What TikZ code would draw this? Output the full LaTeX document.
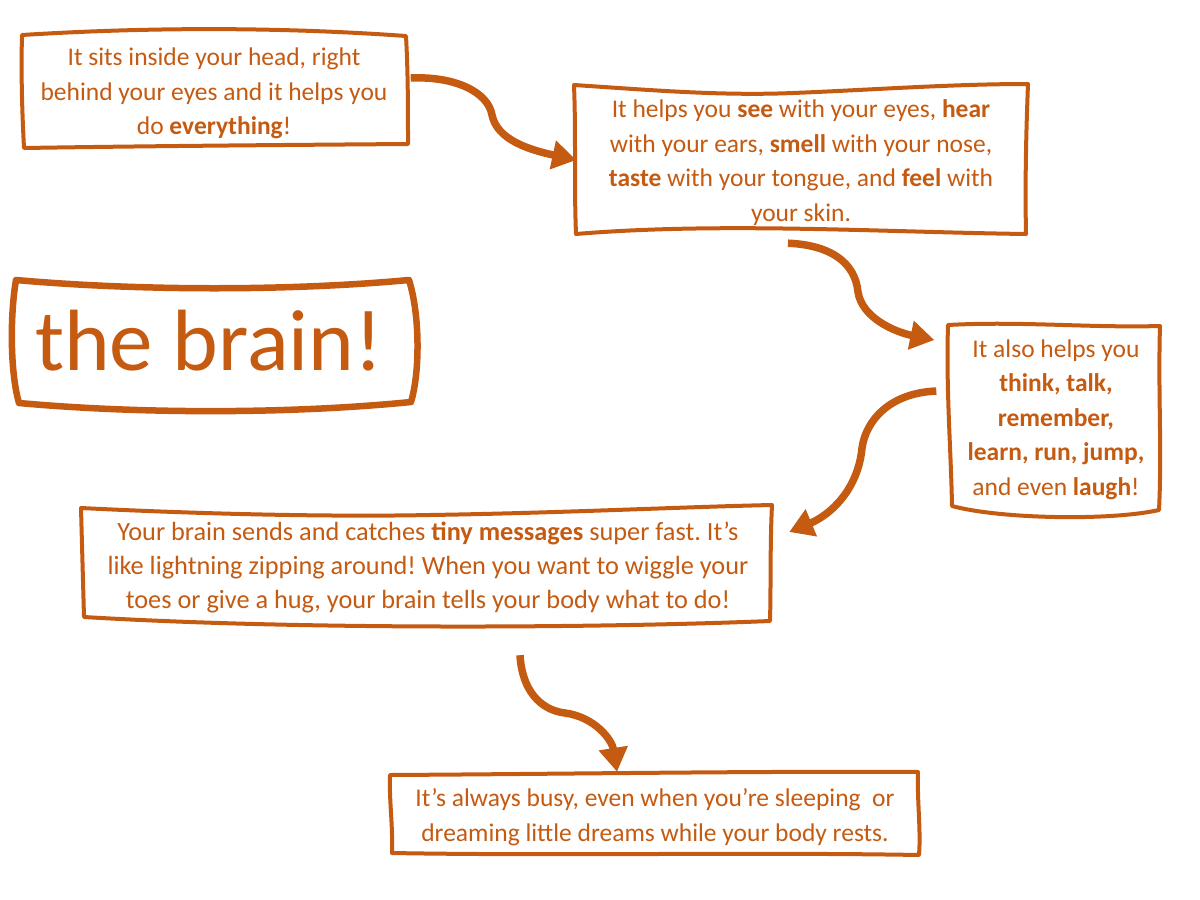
\documentclass[tikz,border=0pt]{standalone}
\usepackage{fontspec}
\setmainfont{Carlito}
\usetikzlibrary{arrows.meta,calc}
\definecolor{brn}{HTML}{C55A11}
\frenchspacing
\tikzset{
  boxline/.style={draw=brn,line width=4pt,line join=round},
  bigline/.style={draw=brn,line width=6.5pt,line join=round},
  txt/.style={text=brn,align=center,inner sep=0pt,font=\fontsize{25.5}{34.5}\selectfont},
  conn/.style={draw=brn,line width=7.5pt,-{Triangle[length=24pt,width=28pt]}}
}
\begin{document}
\begin{tikzpicture}[x=1pt,y=-1pt]
\fill[white] (0,0) rectangle (1200,900);
\useasboundingbox (0,0) rectangle (1200,900);

% nodes
\node[txt,minimum width=385pt,minimum height=115pt] (A) at (214,93.5)
 {It sits inside your head, right\\ behind your eyes and it helps you\\ do \textbf{everything}!};
\node[txt,minimum width=453pt,minimum height=150pt] (B) at (801,162.5)
 {It helps you \textbf{see} with your eyes, \textbf{hear}\\ with your ears, \textbf{smell} with your nose,\\ \textbf{taste} with your tongue, and \textbf{feel} with\\ your skin.};
\node[txt,minimum width=211pt,minimum height=185pt] (D) at (1056,419.5)
 {It also helps you\\ \textbf{think, talk,}\\ \textbf{remember,}\\ \textbf{learn, run, jump,}\\ and even \textbf{laugh}!};
\node[txt,minimum width=690pt,minimum height=112pt,font=\fontsize{26.3}{34}\selectfont] (E) at (428,567)
 {Your brain sends and catches \textbf{tiny messages} super fast. It’s\\ like lightning zipping around! When you want to wiggle your\\ toes or give a hug, your brain tells your body what to do!};
\node[txt,minimum width=528pt,minimum height=80pt] (F) at (655,817)
 {It’s always busy, even when you’re sleeping\ \ or\\ dreaming little dreams while your body rests.};
\node[text=brn,inner sep=0pt,anchor=base,font=\fontsize{87}{100}\selectfont] (C) at (209,370) {the brain!};

% borders
\draw[boxline] (22,35) .. controls (150,27) and (280,27) .. (406,36)
  .. controls (408,72) and (408,108) .. (408,144)
  .. controls (280,145) and (150,146) .. (24,148)
  .. controls (22,110) and (21,72) .. (22,35) -- cycle;
\draw[boxline] (574,85) .. controls (650,90) and (720,96) .. (793,93)
  .. controls (870,90) and (950,84) .. (1028,84)
  .. controls (1026,135) and (1025,185) .. (1026,234)
  .. controls (880,232) and (720,222) .. (576,234)
  .. controls (574,185) and (576,135) .. (574,85) -- cycle;
\draw[bigline] (16,280) .. controls (140,291) and (290,291) .. (409,280)
  .. controls (420,315) and (420,372) .. (411,402)
  .. controls (290,414) and (140,414) .. (19,403)
  .. controls (10,372) and (10,315) .. (16,280) -- cycle;
\draw[boxline] (948,325) .. controls (1020,321) and (1090,328) .. (1160,326)
  .. controls (1158,390) and (1162,450) .. (1159,510)
  .. controls (1110,521) and (1000,519) .. (952,506)
  .. controls (951,450) and (946,390) .. (948,325) -- cycle;
\draw[boxline] (81,508) .. controls (200,514) and (330,517) .. (430,515)
  .. controls (560,513) and (680,507) .. (772,505)
  .. controls (770,545) and (771,585) .. (770,621)
  .. controls (600,628) and (300,630) .. (84,617)
  .. controls (83,580) and (82,545) .. (81,508) -- cycle;
\draw[boxline] (390,775) .. controls (560,774) and (760,771) .. (918,772)
  .. controls (917,800) and (921,830) .. (919,855)
  .. controls (750,852) and (560,856) .. (392,853)
  .. controls (393,825) and (389,800) .. (390,775) -- cycle;

% connectors
\draw[conn] ([shift={(4,-15.5)}]A.east) .. controls (455,76) and (488,92) .. (492,115)
  .. controls (497,140) and (530,150) .. ([shift={(2,-2.5)}]B.west);
\draw[conn] ([shift={(-13,5.5)}]B.south) .. controls (830,245) and (855,262) .. (858,292)
  .. controls (862,318) and (895,332) .. ([shift={(-16,-79.5)}]D.west);
\draw[conn] ([shift={(-14,-28.5)}]D.west) .. controls (890,393) and (866,420) .. (862,448)
  .. controls (858,490) and (830,515) .. ([shift={(16,-35)}]E.east);
\draw[conn] ([shift={(92,32)}]E.south) .. controls (522,690) and (540,710) .. (565,713)
  .. controls (595,717) and (612,740) .. ([shift={(-38,-5)}]F.north);
\end{tikzpicture}
\end{document}
